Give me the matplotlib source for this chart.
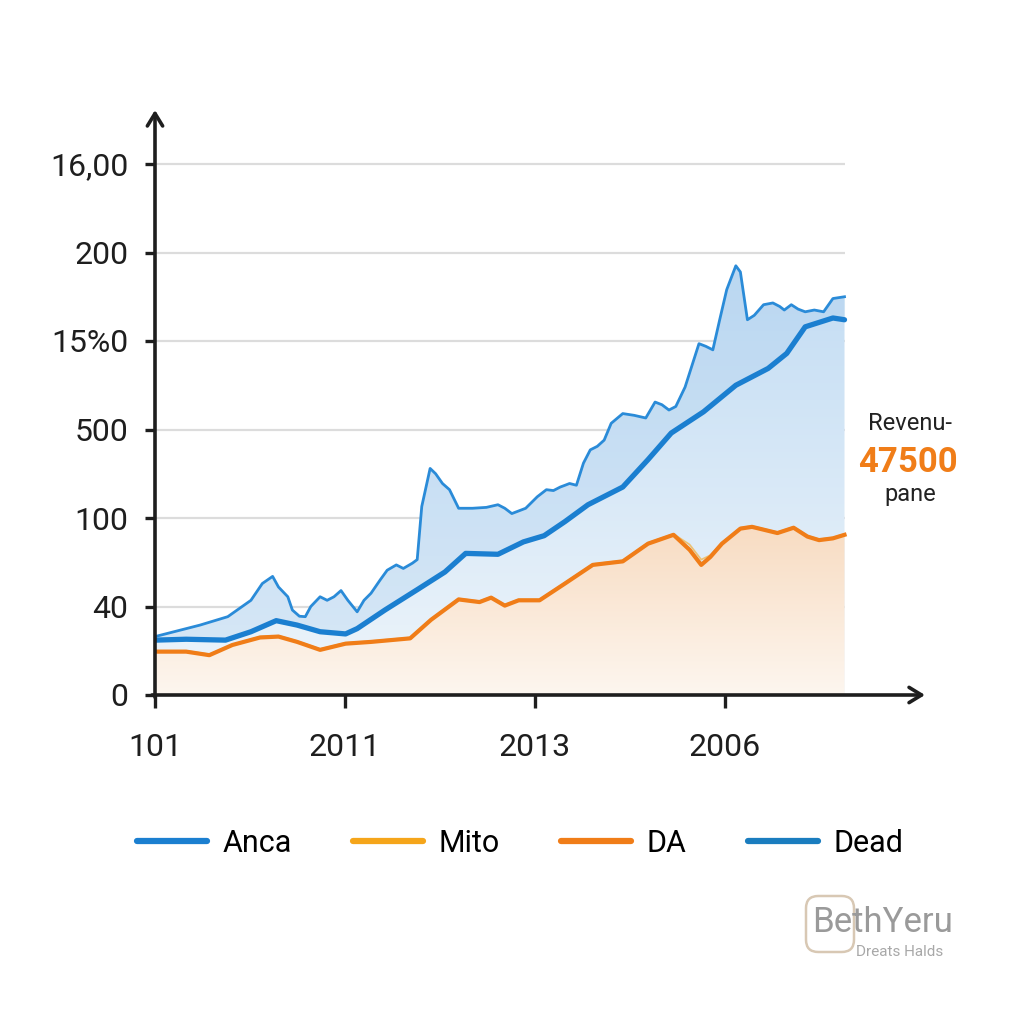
import numpy as np
import matplotlib
matplotlib.use("Agg")
import matplotlib.pyplot as plt
from matplotlib.lines import Line2D
from matplotlib.colors import LinearSegmentedColormap
from matplotlib.patches import FancyBboxPatch

plt.rcParams["font.family"] = ["Roboto", "DejaVu Sans"]

# tick labels as printed on the chart
y_labels = ["0", "40", "100", "500", "15%0", "200", "16,00"]
x_labels = ["101", "2011", "2013", "2006"]

# Anca - thin noisy upper line
anca_x = [0.0, 0.237, 0.383, 0.505, 0.565, 0.619, 0.650, 0.699, 0.723, 0.760, 0.791,
          0.820, 0.869, 0.906, 0.942, 0.979, 1.015, 1.064, 1.100, 1.137, 1.185, 1.222,
          1.270, 1.307, 1.355, 1.380, 1.404, 1.448, 1.477, 1.513, 1.550, 1.598, 1.671,
          1.744, 1.805, 1.841, 1.878, 1.951, 2.012, 2.060, 2.097, 2.133, 2.158, 2.182,
          2.218, 2.255, 2.291, 2.328, 2.364, 2.401, 2.462, 2.522, 2.583, 2.632, 2.668,
          2.705, 2.741, 2.790, 2.863, 2.899, 2.936, 2.972, 3.009, 3.057, 3.081, 3.118,
          3.154, 3.203, 3.252, 3.288, 3.312, 3.349, 3.385, 3.422, 3.470, 3.519, 3.568,
          3.629]
anca_y = [0.66, 0.79, 0.885, 1.07, 1.26, 1.34, 1.22, 1.11, 0.96, 0.89, 0.885,
          1.00, 1.11, 1.07, 1.11, 1.18, 1.07, 0.94, 1.07, 1.15, 1.30, 1.41,
          1.47, 1.43, 1.49, 1.53, 2.13, 2.56, 2.50, 2.39, 2.32, 2.11, 2.11,
          2.12, 2.15, 2.11, 2.05, 2.11, 2.24, 2.32, 2.31, 2.35, 2.37, 2.39,
          2.37, 2.62, 2.77, 2.81, 2.88, 3.07, 3.18, 3.16, 3.13, 3.31, 3.28,
          3.22, 3.26, 3.48, 3.97, 3.94, 3.90, 4.24, 4.58, 4.85, 4.78, 4.24,
          4.29, 4.41, 4.43, 4.39, 4.35, 4.41, 4.36, 4.33, 4.35, 4.33, 4.48,
          4.50]

# Dead - thick trend line
dead_x = [0.0, 0.164, 0.371, 0.505, 0.638, 0.748, 0.869, 1.003, 1.064, 1.210, 1.380,
          1.526, 1.635, 1.805, 1.939, 2.048, 2.158, 2.279, 2.462, 2.595, 2.717, 2.887,
          3.057, 3.227, 3.325, 3.422, 3.568, 3.629]
dead_y = [0.62, 0.63, 0.62, 0.715, 0.84, 0.79, 0.715, 0.69, 0.75, 0.96, 1.19,
          1.39, 1.60, 1.59, 1.73, 1.80, 1.96, 2.15, 2.35, 2.66, 2.96, 3.20,
          3.50, 3.69, 3.86, 4.16, 4.26, 4.24]

# DA - orange line
da_x = [0.0, 0.164, 0.286, 0.407, 0.553, 0.650, 0.748, 0.869, 1.003, 1.137, 1.343,
        1.453, 1.598, 1.708, 1.769, 1.841, 1.914, 2.024, 2.158, 2.304, 2.462, 2.595,
        2.729, 2.814, 2.875, 2.923, 2.984, 3.081, 3.142, 3.276, 3.361, 3.434, 3.495,
        3.568, 3.629]
da_y = [0.49, 0.49, 0.45, 0.565, 0.65, 0.66, 0.60, 0.51, 0.58, 0.60, 0.64,
        0.85, 1.08, 1.05, 1.10, 1.01, 1.07, 1.07, 1.26, 1.47, 1.51, 1.71,
        1.81, 1.64, 1.47, 1.56, 1.71, 1.88, 1.90, 1.83, 1.89, 1.79, 1.75,
        1.77, 1.81]

# Mito - faint line running just beside DA (visible mostly at the dip)
mito_x = da_x
mito_y = [0.50, 0.50, 0.46, 0.57, 0.66, 0.67, 0.61, 0.52, 0.59, 0.61, 0.65,
          0.86, 1.09, 1.06, 1.11, 1.02, 1.08, 1.08, 1.27, 1.48, 1.52, 1.72,
          1.82, 1.70, 1.53, 1.58, 1.72, 1.89, 1.91, 1.84, 1.90, 1.80, 1.76,
          1.78, 1.82]

BLUE = "#1b7fd0"
BLUE_THIN = "#2a8bd8"
ORANGE = "#f07d18"
MITO = "#f5a51a"

fig = plt.figure(figsize=(10.24, 10.24), dpi=100)
ax = fig.add_axes([155 / 1024, 1 - 695 / 1024, 770 / 1024, 585 / 1024])

xmax = 770 / 190
ymax = 585 / 88.5


def grad_fill(x, y, c_top, c_bot, y_top, z):
    poly = ax.fill_between(x, 0, y, color="none", lw=0)
    cmap = LinearSegmentedColormap.from_list("g", [c_bot, c_top])
    arr = np.linspace(0, 1, 256).reshape(-1, 1)
    im = ax.imshow(arr, cmap=cmap, extent=[x[0], x[-1], 0, y_top],
                   aspect="auto", origin="lower", zorder=z)
    im.set_clip_path(poly.get_paths()[0], transform=ax.transData)


grad_fill(anca_x, anca_y, "#c2dcf3", "#eef5fb", 4.9, 1)
# darker band between the noisy line and the trend
trend_at = np.interp(anca_x, dead_x, dead_y)
ax.fill_between(anca_x, trend_at, anca_y, where=np.array(anca_y) > trend_at,
                color="#a9cdee", alpha=0.3, lw=0, zorder=1.5)
grad_fill(da_x, da_y, "#f8dcc2", "#fdf6ef", 1.9, 2)

ax.hlines(range(1, 7), 0, 3.63, color="#dcdcdc", lw=1.6, zorder=0.5)

ax.plot(mito_x, mito_y, color=MITO, lw=1.2, alpha=0.6, zorder=4)
ax.plot(anca_x, anca_y, color=BLUE_THIN, lw=2.0, zorder=4)
ax.plot(da_x, da_y, color=ORANGE, lw=3.0, zorder=5)
ax.plot(dead_x, dead_y, color=BLUE, lw=3.8, zorder=6, solid_capstyle="round")

ax.set_xlim(0, xmax)
ax.set_ylim(0, ymax)
for s in ax.spines.values():
    s.set_visible(False)

# axes with open arrow heads
arrow = dict(arrowstyle="->,head_length=0.9,head_width=0.55", lw=2.6, color="#1e1e1e",
             shrinkA=0, shrinkB=0)
ax.annotate("", xy=(1, 0), xytext=(-0.004, 0), xycoords="axes fraction",
            arrowprops=arrow, annotation_clip=False, zorder=8)
ax.annotate("", xy=(0, 1), xytext=(0, -0.004), xycoords="axes fraction",
            arrowprops=arrow, annotation_clip=False, zorder=8)

ax.set_yticks(range(7))
ax.set_yticklabels(y_labels, fontsize=23)
ax.set_xticks(range(4))
ax.set_xticklabels(x_labels, fontsize=23)
ax.tick_params(axis="y", length=7, width=2.4, color="#1e1e1e", pad=12, labelcolor="#1e1e1e")
ax.tick_params(axis="x", length=9, width=2.4, color="#1e1e1e", pad=18, labelcolor="#1e1e1e")

# side annotation
fig.text(910 / 1024, 1 - 423 / 1024, "Revenu-", ha="center", va="center",
         fontsize=17, color="#222222")
fig.text(908 / 1024, 1 - 462 / 1024, "47500", ha="center", va="center",
         fontsize=25, color=ORANGE, fontweight="bold")
fig.text(910 / 1024, 1 - 495 / 1024, "pane", ha="center", va="center",
         fontsize=17, color="#222222")

# legend
handles = [Line2D([], [], color=BLUE, lw=4.5, solid_capstyle="round"),
           Line2D([], [], color=MITO, lw=4.5, solid_capstyle="round"),
           Line2D([], [], color=ORANGE, lw=4.5, solid_capstyle="round"),
           Line2D([], [], color="#1a7dbf", lw=4.5, solid_capstyle="round")]
fig.legend(handles, ["Anca", "Mito", "DA", "Dead"], loc="center",
           bbox_to_anchor=(520 / 1024, 1 - 843 / 1024), ncol=4, frameon=False,
           fontsize=22, handlelength=2.3, handletextpad=0.5, columnspacing=2.0)

# watermark
badge = FancyBboxPatch((806 / 1024, 1 - 952 / 1024), 48 / 1024, 56 / 1024,
                       boxstyle="round,pad=0,rounding_size=0.012",
                       transform=fig.transFigure, fill=False, ec="#d8c8b4", lw=1.8)
fig.patches.append(badge)
fig.text(883 / 1024, 1 - 922 / 1024, "BethYeru", ha="center", va="center",
         fontsize=25, color="#9a9a9a")
fig.text(900 / 1024, 1 - 952 / 1024, "Dreats Halds", ha="center", va="center",
         fontsize=11, color="#a8a8a8")

fig.savefig("out.png", dpi=100, facecolor="white")
